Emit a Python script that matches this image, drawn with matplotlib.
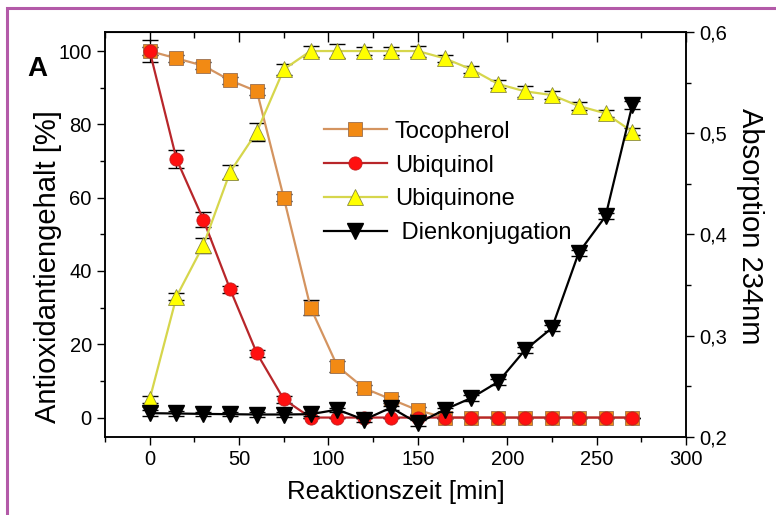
import matplotlib
matplotlib.use("Agg")
import matplotlib.pyplot as plt
from matplotlib.patches import Rectangle
from matplotlib.ticker import MultipleLocator, FuncFormatter
import numpy as np

plt.rcParams['font.family'] = ['Liberation Sans', 'DejaVu Sans']

# Reaktionszeit [min]
zeit = [0, 15, 30, 45, 60, 75, 90, 105, 120, 135, 150, 165, 180, 195, 210, 225, 240, 255, 270]

tocopherol = [100, 98, 96, 92, 89, 60, 30, 14, 8, 5, 2, 0, 0, 0, 0, 0, 0, 0, 0]
tocopherol_err = [1, 1, 1, 1, 1, 1, 2, 1.5, 1, 1, 1, 0, 0, 0, 0, 0, 0, 0, 0]

ubiquinol = [100, 70.5, 54, 35, 17.5, 5, 0, 0, 0, 0, 0, 0, 0, 0, 0, 0, 0, 0, 0]
ubiquinol_err = [3, 2.5, 2, 1, 1, 1, 0, 0, 0, 0, 0, 0, 0, 0, 0, 0, 0, 0, 0]

ubiquinone = [5, 33, 47, 67, 78, 95, 100, 100, 100, 100, 100, 98, 95, 91, 89, 88, 85, 83, 78]
ubiquinone_err = [1, 1, 2, 2, 2.5, 1.5, 1.5, 2, 1, 1, 1.5, 1, 1, 1, 1.5, 1, 1, 1, 1]

# Absorption 234nm
dien = [0.2235, 0.2232, 0.2228, 0.2225, 0.2222, 0.2222, 0.2225, 0.227, 0.217, 0.229, 0.2136,
        0.227, 0.2386, 0.2545, 0.286, 0.3076, 0.382, 0.418, 0.528]
dien_err = [0.003, 0.002, 0.002, 0.002, 0.002, 0.002, 0.002, 0.002, 0.002, 0.002, 0.003,
            0.002, 0.003, 0.003, 0.003, 0.003, 0.003, 0.003, 0.004]

fig = plt.figure(figsize=(7.76, 5.15), dpi=100)
ax = fig.add_axes([0.1353, 0.1515, 0.7487, 0.7864])

# purple frame (top and left)
fig.add_artist(Rectangle((7 / 776, -0.1), 1.2, 1 - 8 / 515 + 0.1, transform=fig.transFigure,
                         fill=False, edgecolor='#b35aa8', linewidth=2.2))

series = [
    (tocopherol, tocopherol_err, 's', '#d49460', '#f28a14', '#9a7050', 9.5, 'Tocopherol'),
    (ubiquinol, ubiquinol_err, 'o', '#b8262a', '#ff1010', '#c02020', 9.5, 'Ubiquinol'),
    (ubiquinone, ubiquinone_err, '^', '#d6d64c', '#ffff00', '#8a8a40', 12, 'Ubiquinone'),
]
handles = []
for vals, err, mk, lc, fc, ec, ms, lab in series:
    ax.errorbar(zeit, vals, yerr=err, fmt='none', ecolor='black', elinewidth=0.9,
                capsize=5.5, capthick=1.0, zorder=2)
    h, = ax.plot(zeit, vals, marker=mk, color=lc, linewidth=1.6, markersize=ms,
                 markerfacecolor=fc, markeredgecolor=ec, markeredgewidth=0.6, label=lab, zorder=3)
    handles.append(h)

ax.set_xlim(-25, 300)
ax.set_ylim(-5.3, 105.2)
ax.xaxis.set_major_locator(MultipleLocator(50))
ax.xaxis.set_minor_locator(MultipleLocator(25))
ax.yaxis.set_major_locator(MultipleLocator(20))
ax.yaxis.set_minor_locator(MultipleLocator(10))
ax.tick_params(which='major', direction='out', length=6, width=1, labelsize=14.5)
ax.tick_params(which='minor', direction='out', length=3.5, width=1)
ax.set_xlabel('Reaktionszeit [min]', fontsize=18.5, labelpad=8)
ax.set_ylabel('Antioxidantiengehalt [%]', fontsize=21)
ax.yaxis.set_label_coords(-0.074, 0.422)

top = ax.secondary_xaxis('top')
top.xaxis.set_major_locator(MultipleLocator(50))
top.xaxis.set_minor_locator(MultipleLocator(25))
top.tick_params(which='major', direction='in', length=7, width=1, labeltop=False)
top.tick_params(which='minor', direction='in', length=4, width=1)

ax2 = ax.twinx()
ax2.errorbar(zeit, dien, yerr=dien_err, fmt='none', ecolor='black', elinewidth=0.9,
             capsize=5.5, capthick=1.0, zorder=2)
h, = ax2.plot(zeit, dien, marker='v', color='black', linewidth=1.6, markersize=11,
              markerfacecolor='black', markeredgecolor='black', label=' Dienkonjugation', zorder=3)
handles.append(h)
ax2.set_ylim(0.2, 0.6)
ax2.yaxis.set_major_locator(MultipleLocator(0.1))
ax2.yaxis.set_minor_locator(MultipleLocator(0.05))
ax2.yaxis.set_major_formatter(FuncFormatter(lambda v, p: f'{v:.1f}'.replace('.', ',')))
ax2.tick_params(which='major', direction='out', length=6, width=1, labelsize=14.5)
ax2.tick_params(which='minor', direction='out', length=3.5, width=1)
ax2.set_ylabel('Absorption 234nm', fontsize=21, rotation=270)
ax2.yaxis.set_label_coords(1.134, 0.521)

for a in (ax, ax2):
    for s in a.spines.values():
        s.set_linewidth(1.1)

ax2.legend(handles=handles, loc='upper left', bbox_to_anchor=(0.356, 0.81), frameon=False,
           fontsize=17, handlelength=2.67, handletextpad=0.35, labelspacing=0.5, borderpad=0)

fig.text(27 / 776, 1 - 69 / 515, 'A', fontsize=20, fontweight='bold', va='center', ha='left')

fig.savefig('out.png', dpi=100)
